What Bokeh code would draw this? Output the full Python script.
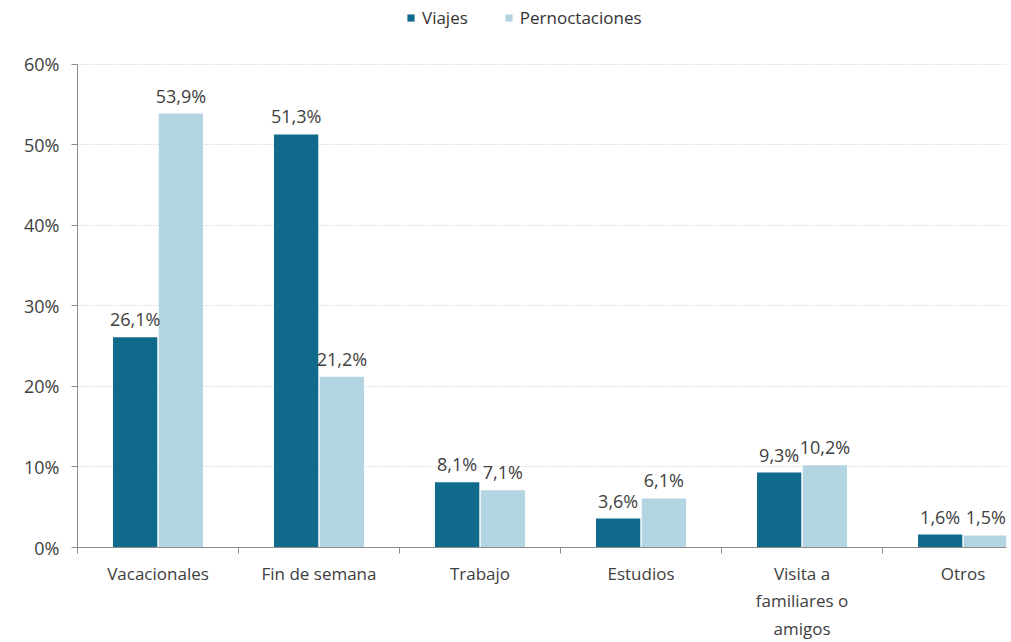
import numpy as np
from bokeh.plotting import figure
from bokeh.models import (Range1d, FixedTicker, PrintfTickFormatter, Legend, LegendItem,
                          ColumnDataSource, LabelSet)
from bokeh.core.properties import value
from bokeh.embed import file_html
from bokeh.resources import INLINE

categories = ["Vacacionales", "Fin de semana", "Trabajo", "Estudios",
              "Visita a\nfamiliares o\namigos", "Otros"]
viajes = [26.1, 51.3, 8.1, 3.6, 9.3, 1.6]
pernoctaciones = [53.9, 21.2, 7.1, 6.1, 10.2, 1.5]
y_ticks = [0, 10, 20, 30, 40, 50, 60]

DARK = "#0f6a8b"
LIGHT = "#b3d5e2"
FONT = "Open Sans"
TXT = "#404040"

n = len(categories)
centers = np.arange(n) + 0.5
off = 0.142
bw = 0.275

# frame spans the full top area (legend sits inside it); axis line bounded to 0-60
y_top = 60 * 548 / 484
p = figure(width=1011, height=642, output_backend="svg", toolbar_location=None,
           x_range=Range1d(0, 5.77), y_range=Range1d(0, y_top),
           min_border_left=77, min_border_right=5, min_border_top=0, min_border_bottom=94)
p.outline_line_color = None
p.background_fill_color = "white"

def fmt(v):
    return f"{v:.1f}".replace(".", ",") + "%"

src_v = ColumnDataSource(dict(x=centers - off, top=viajes, lab=[fmt(v) for v in viajes]))
src_p = ColumnDataSource(dict(x=centers + off, top=pernoctaciones, lab=[fmt(v) for v in pernoctaciones]))

r1 = p.vbar(x="x", top="top", width=bw, source=src_v, fill_color=DARK, line_color=None)
r2 = p.vbar(x="x", top="top", width=bw, source=src_p, fill_color=LIGHT, line_color=None)

for src in (src_v, src_p):
    p.add_layout(LabelSet(x="x", y="top", text="lab", source=src, text_align="center",
                          text_baseline="bottom", y_offset=6, text_font=value(FONT),
                          text_font_size=value("18px"), text_color=TXT))

# axes
p.xaxis.ticker = FixedTicker(ticks=list(centers), minor_ticks=list(range(n + 1)))
p.xaxis.major_label_overrides = {float(c): lab for c, lab in zip(centers, categories)}
p.xaxis.major_tick_line_color = None
p.xaxis.minor_tick_line_color = "#8c8c8c"
p.xaxis.minor_tick_in = 0
p.xaxis.minor_tick_out = 6
p.xaxis.axis_line_color = "#8c8c8c"
p.xaxis.major_label_text_font = FONT
p.xaxis.major_label_text_font_size = "17px"
p.xaxis.major_label_text_color = TXT
p.xaxis.major_label_standoff = 8

p.yaxis.ticker = FixedTicker(ticks=y_ticks, minor_ticks=[])
p.yaxis.bounds = (min(y_ticks), max(y_ticks))
p.yaxis.formatter = PrintfTickFormatter(format="%d%%")
p.yaxis.axis_line_color = "#8c8c8c"
p.yaxis.major_tick_line_color = "#8c8c8c"
p.yaxis.major_tick_in = 0
p.yaxis.major_tick_out = 6
p.yaxis.major_label_text_font = FONT
p.yaxis.major_label_text_font_size = "18px"
p.yaxis.major_label_text_color = TXT
p.yaxis.major_label_standoff = 12

p.xgrid.grid_line_color = None
p.ygrid.ticker = FixedTicker(ticks=y_ticks[1:])
p.ygrid.grid_line_color = "#e3e3e3"
p.ygrid.grid_line_dash = "2 1"

legend = Legend(items=[LegendItem(label="Viajes", renderers=[r1]),
                       LegendItem(label="Pernoctaciones", renderers=[r2])],
                orientation="horizontal", location=(329, 518),
                label_text_font=FONT, label_text_font_size="17px", label_text_color="#333333",
                glyph_width=9, glyph_height=9, spacing=36, label_standoff=7,
                border_line_color=None, background_fill_alpha=0,
                padding=2, margin=0)
p.add_layout(legend)

open("out.html", "w").write(file_html(p, INLINE))
